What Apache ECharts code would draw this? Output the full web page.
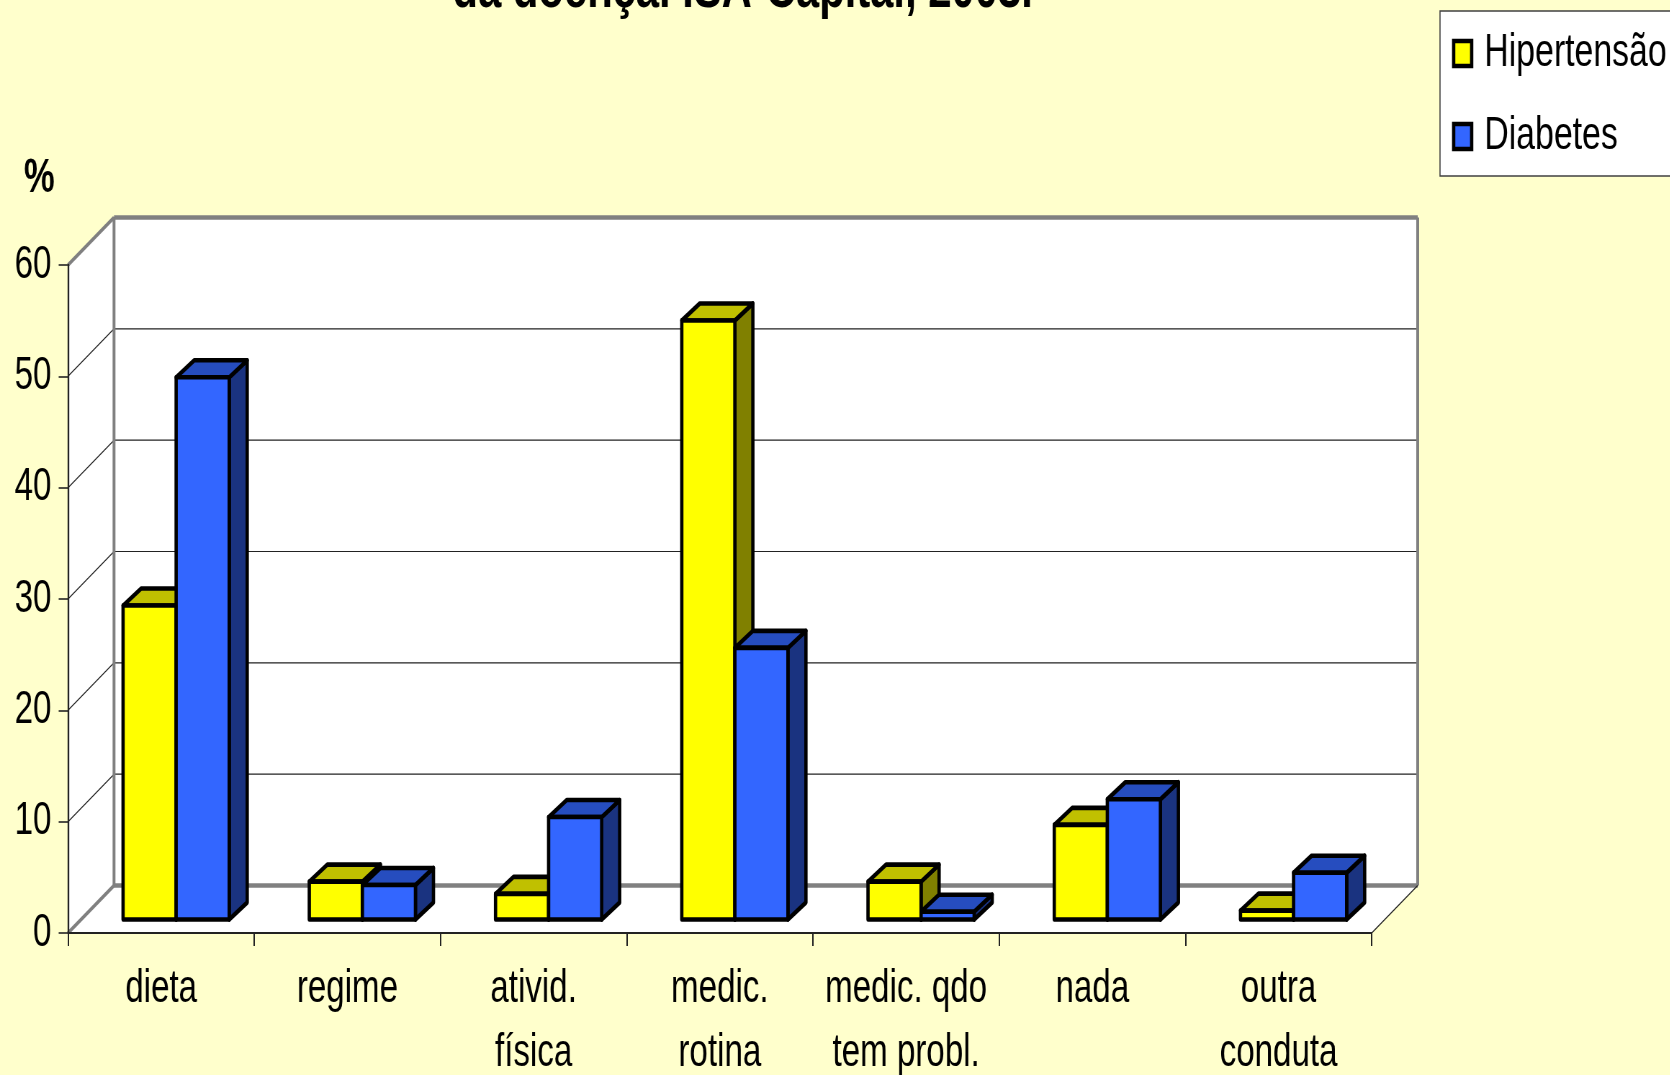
<!DOCTYPE html>
<html><head><meta charset="utf-8">
<style>html,body{margin:0;padding:0;background:#FFFFCC;overflow:hidden;width:1670px;height:1075px}
#c{position:absolute;left:0;top:0;height:1075px;transform-origin:0 0}</style>
<script src="https://cdn.jsdelivr.net/npm/echarts@6/dist/echarts.min.js"></script>
</head><body><div id="c"></div>
<script>
const titleText = 'da doença. ISA-Capital, 2003.';
const categories = ['dieta','regime','ativid.\nfísica','medic.\nrotina','medic. qdo\ntem probl.','nada','outra\nconduta'];
const hipertensao = [28.2,3.4,2.3,53.8,3.4,8.5,0.8];
const diabetes = [48.7,3.1,9.2,24.4,0.7,10.8,4.2];
const yTicks = [0,10,20,30,40,50,60];

const K = 0.72;                 // horizontal squeeze of the whole picture
const X = v => v / K;           // page px -> chart px
const el = document.getElementById('c');
el.style.width = X(1670) + 'px';
el.style.transform = 'scaleX(' + K + ')';
const chart = echarts.init(el);

const wallD = {x: X(46), y: 47.5};
const barD = {x: X(15), y: 13.5};
const side = {x: X(18), y: 17};
const FONT = 'Liberation Sans';
const GREY = '#808080', DARK = '#222222';
const BAR_LW = 4.6;

function poly(points, fill, stroke, lw) {
  return {type:'polygon', shape:{points}, style:{fill, stroke, lineWidth:lw, lineJoin:'round'}};
}
function line(a, b, stroke, lw) {
  return {type:'line', shape:{x1:a[0],y1:a[1],x2:b[0],y2:b[1]}, style:{stroke, lineWidth:lw, fill:null}};
}
function renderWalls(params, api) {
  const g = params.coordSys, x0 = g.x, x1 = g.x + g.width, yb = g.y + g.height, yt = g.y;
  const dx = wallD.x, dy = wallD.y;
  return {type:'group', children:[
    poly([[x0,yb],[x0,yt],[x0+dx,yt-dy],[x0+dx,yb-dy]], '#fff'),
    poly([[x0+dx,yt-dy],[x1+dx,yt-dy],[x1+dx,yb-dy],[x0+dx,yb-dy]], '#fff'),
    poly([[x0,yb],[x0+dx,yb-dy],[x1+dx,yb-dy],[x1,yb]], '#fff')
  ]};
}
function renderGrid(params, api) {
  const g = params.coordSys, x0 = g.x, x1 = g.x + g.width;
  const y = api.coord([0, api.value(1)])[1];
  const dx = wallD.x, dy = wallD.y;
  return {type:'group', children:[
    line([x0,y],[x0+dx,y-dy], DARK, 1.2),
    line([x0+dx,y-dy],[x1+dx,y-dy], DARK, 1.2)
  ]};
}
function renderFrame(params, api) {
  const g = params.coordSys, x0 = g.x, x1 = g.x + g.width, yb = g.y + g.height, yt = g.y;
  const dx = wallD.x, dy = wallD.y;
  return {type:'group', children:[
    line([x0,yb],[x0+dx,yb-dy], GREY, 4),
    line([x0,yt],[x0+dx,yt-dy], GREY, 4),
    line([x0+dx,yb-dy],[x1+dx,yb-dy], GREY, 4.5),
    line([x0+dx,yt-dy],[x1+dx,yt-dy], GREY, 4.5),
    line([x0+dx,yt-dy],[x0+dx,yb-dy], GREY, 4),
    line([x1+dx,yt-dy],[x1+dx,yb-dy], GREY, 4),
    line([x1,yb],[x1+dx,yb-dy], DARK, 1.4)
  ]};
}
function barRenderer(offsetSign, front, top, sideC) {
  return function(params, api) {
    const base = api.coord([api.value(0), 0]);
    const tip = api.coord([api.value(0), api.value(1)]);
    const w = api.size([1,0])[0] * 0.285;
    const cx = base[0] + barD.x;
    const l = offsetSign < 0 ? cx - w : cx, r = l + w;
    const b = base[1] - barD.y, t = tip[1] - barD.y;
    return {type:'group', children:[
      poly([[r,t],[r+side.x,t-side.y],[r+side.x,b-side.y],[r,b]], sideC, '#000', BAR_LW),
      poly([[l,t],[l+side.x,t-side.y],[r+side.x,t-side.y],[r,t]], top, '#000', BAR_LW),
      poly([[l,b],[l,t],[r,t],[r,b]], front, '#000', BAR_LW)
    ]};
  };
}
const staticItem = {x:0, y:1};
chart.setOption({
  animation:false,
  backgroundColor:'#FFFFCC',
  textStyle:{fontFamily:FONT},
  title:{text:titleText, left:X(739), textAlign:'center', top:-43,
    textStyle:{fontFamily:FONT, fontSize:58, fontWeight:'bold', color:'#000'}},
  legend:{
    data:['Hipertensão','Diabetes'], orient:'vertical', left:X(1440), top:11, icon:'rect',
    padding:[19,X(40),16,X(12)], itemGap:36, itemWidth:X(18), itemHeight:25,
    itemStyle:{borderColor:'#000', borderWidth:4.6},
    backgroundColor:'#fff', borderColor:'#404040', borderWidth:1.6,
    textStyle:{fontFamily:FONT, fontSize:47, color:'#000', padding:[2,0,0,X(9)]},
    selectedMode:false
  },
  grid:{left:X(68), right:X(298), top:265, bottom:142, outerBoundsMode:'none'},
  xAxis:{type:'category', data:categories, boundaryGap:true, z:6,
    axisLine:{lineStyle:{color:DARK,width:1.8}},
    axisTick:{show:true,alignWithLabel:false,length:13,lineStyle:{color:DARK,width:2}},
    axisLabel:{interval:0, margin:24, fontFamily:FONT, fontSize:46, lineHeight:64, color:'#000'},
    splitLine:{show:false}},
  yAxis:{type:'value', min:0, max:60, interval:10, z:6,
    name:'%', nameLocation:'end', nameGap:62,
    nameTextStyle:{fontFamily:FONT, fontSize:48, fontWeight:'bold', color:'#000', align:'left', padding:[0,0,0,-X(44)]},
    axisLine:{show:true,lineStyle:{color:DARK,width:2.4}},
    axisTick:{show:true,length:13,lineStyle:{color:DARK,width:1.6}},
    axisLabel:{margin:X(13)+5, fontFamily:FONT, fontSize:46, color:'#000'},
    splitLine:{show:false}},
  series:[
    {type:'custom', name:'walls', silent:true, z:1, renderItem:renderWalls, data:[[0,0]], encode:staticItem},
    {type:'custom', name:'grid', silent:true, z:2, renderItem:renderGrid, data:yTicks.map(v=>[0,v]), encode:staticItem},
    {type:'custom', name:'frame', silent:true, z:3, renderItem:renderFrame, data:[[0,0]], encode:staticItem},
    {type:'custom', name:'Hipertensão', z:4, renderItem:barRenderer(-1,'#FFFF00','#C0C000','#808000'),
      itemStyle:{color:'#FFFF00'},
      data:hipertensao.map((v,i)=>[i,v]), encode:staticItem},
    {type:'custom', name:'Diabetes', z:5, renderItem:barRenderer(1,'#3366FF','#264DBF','#1A3380'),
      itemStyle:{color:'#3366FF'},
      data:diabetes.map((v,i)=>[i,v]), encode:staticItem}
  ]
});
</script></body></html>
